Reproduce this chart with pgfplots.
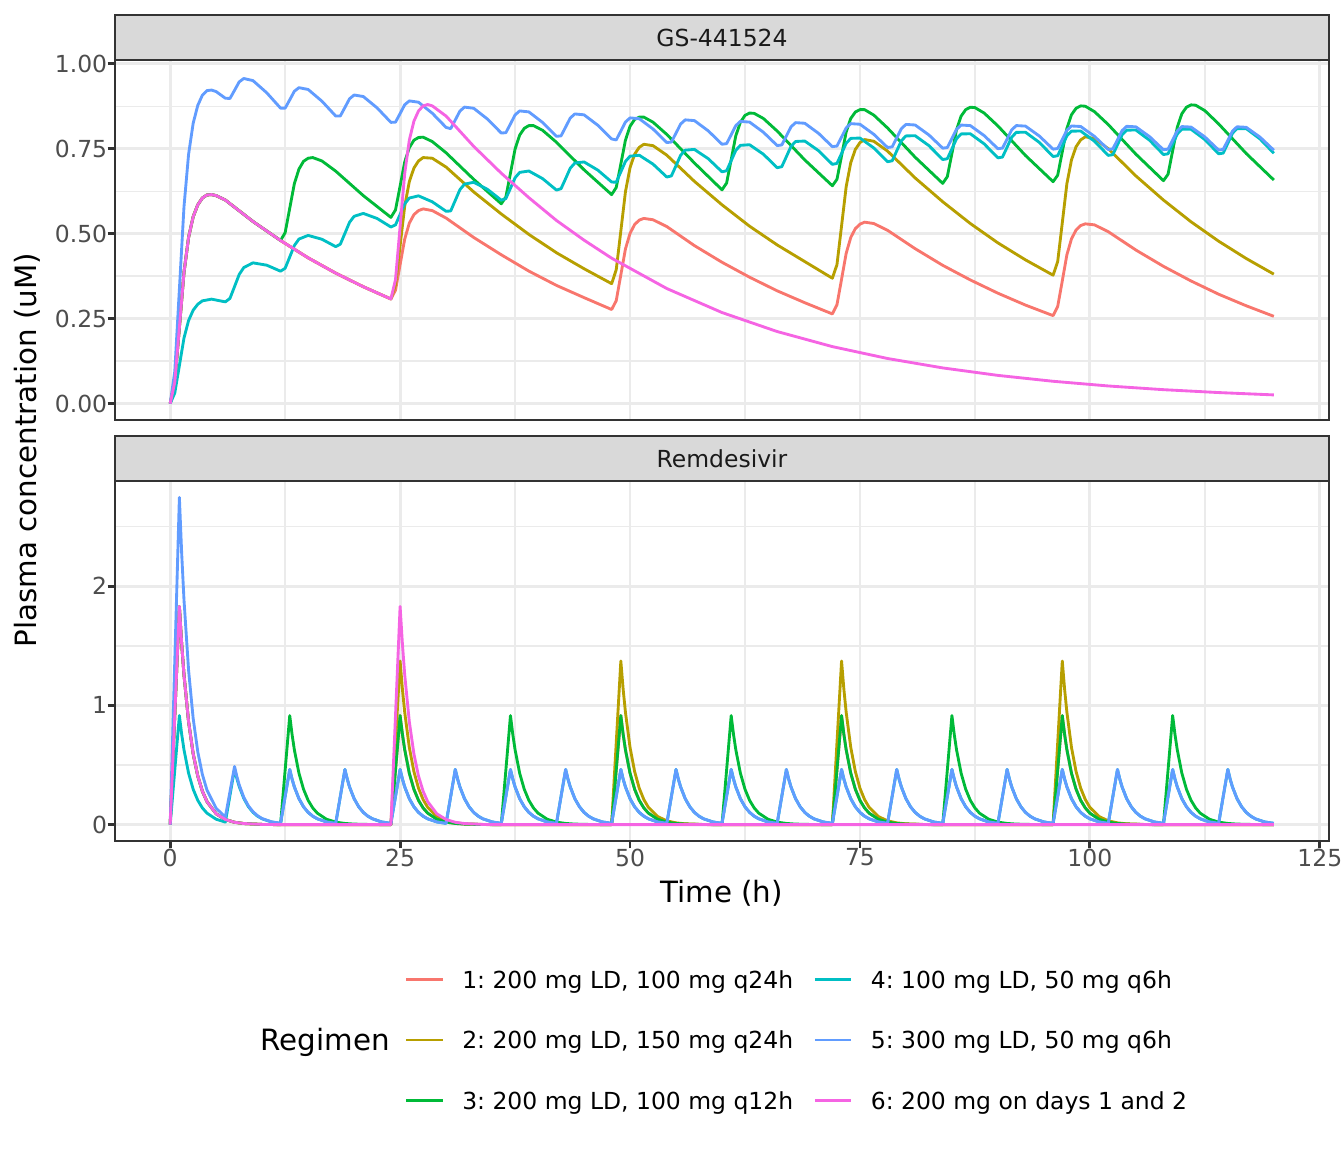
\documentclass[border=0pt]{standalone}
\usepackage{fontspec}
\setmainfont{DejaVu Sans}
\usepackage{pgfplots}
\pgfplotsset{compat=1.18}
\frenchspacing
\definecolor{cA}{HTML}{F8766D}
\definecolor{cB}{HTML}{B79F00}
\definecolor{cC}{HTML}{00BA38}
\definecolor{cD}{HTML}{00BFC4}
\definecolor{cE}{HTML}{619CFF}
\definecolor{cF}{HTML}{F564E3}
\definecolor{gten}{HTML}{1A1A1A}
\definecolor{gtwenty}{HTML}{333333}
\definecolor{gthirty}{HTML}{4D4D4D}
\definecolor{geightyfive}{HTML}{D9D9D9}
\definecolor{gninetytwo}{HTML}{EBEBEB}
\newcommand\ticksz{\fontsize{8.8pt}{10.56pt}\selectfont}
\newcommand\titlesz{\fontsize{11pt}{13.2pt}\selectfont}
\pgfplotsset{
  panel/.style={
    scale only axis, width=455.25pt, height=135pt,
    xmin=-6, xmax=126, anchor=south west,
    axis line style={draw=gtwenty, line width=0.9pt},
    grid=both,
    major grid style={draw=gninetytwo, line width=1.07pt},
    minor grid style={draw=gninetytwo, line width=0.53pt},
    xtick={0,25,50,75,100,125},
    minor xtick={12.5,37.5,62.5,87.5,112.5},
    tick align=outside, major tick length=2.75pt, minor tick length=0pt,
    tick style={draw=gtwenty, line width=1.07pt},
    xtick pos=bottom, ytick pos=left,
    xticklabel style={font=\ticksz, text=gthirty, inner sep=0pt, anchor=north},
    yticklabel style={font=\ticksz, text=gthirty, inner sep=0pt, anchor=east},
    every axis plot/.append style={line width=1.07pt, line join=round},
  }
}
\begin{document}
\begin{tikzpicture}
\useasboundingbox (0,0) rectangle (504pt,432pt);
% ---------------- GS-441524 ----------------
\begin{axis}[panel, at={(43.125pt,274.5pt)},
  ymin=-0.048, ymax=1.011,
  ytick={0,0.25,0.5,0.75,1}, minor ytick={0.125,0.375,0.625,0.875},
  xticklabels={}, xtick style={draw=none},
  yticklabel={\pgfmathprintnumber[fixed,fixed zerofill,precision=2,assume math mode=true]{\tick}}]
% 1
\addplot[cA] coordinates {
(0,0) (0.5,0.063) (1,0.224) (1.5,0.386) (2,0.489) (2.5,0.550) (3,0.585) (3.5,0.605) (4,0.614) (4.5,0.615) (5,0.612) (6,0.599) (9,0.536) (12,0.480) (15,0.429) (18,0.384) (21,0.344) (24,0.308)
(24.5,0.334) (25,0.409) (25.5,0.484) (26,0.531) (26.5,0.556) (27,0.568) (27.5,0.573) (28.5,0.568) (30,0.546) (33,0.489) (36,0.438) (39,0.390) (42,0.348) (45,0.312) (48,0.277)
(48.5,0.303) (49,0.379) (49.5,0.455) (50,0.501) (50.5,0.527) (51,0.540) (51.5,0.545) (52.5,0.541) (54,0.521) (57,0.465) (60,0.416) (63,0.372) (66,0.332) (69,0.297) (72,0.264)
(72.5,0.291) (73,0.366) (73.5,0.442) (74,0.489) (74.5,0.515) (75,0.528) (75.5,0.534) (76.5,0.530) (78,0.510) (81,0.456) (84,0.407) (87,0.364) (90,0.325) (93,0.290) (96,0.259)
(96.5,0.286) (97,0.361) (97.5,0.438) (98,0.485) (98.5,0.511) (99,0.524) (99.5,0.529) (100.5,0.526) (102,0.506) (105,0.452) (108,0.404) (111,0.361) (114,0.322) (117,0.288) (120,0.257)
};
% 2
\addplot[cB] coordinates {
(0,0) (0.5,0.063) (1,0.224) (1.5,0.386) (2,0.489) (2.5,0.550) (3,0.585) (3.5,0.605) (4,0.614) (4.5,0.615) (5,0.612) (6,0.599) (9,0.536) (12,0.480) (15,0.429) (18,0.384) (21,0.344) (24,0.308)
(24.5,0.350) (25,0.465) (25.5,0.581) (26,0.653) (26.5,0.693) (27,0.714) (27.5,0.724) (28.5,0.722) (30,0.696) (33,0.623) (36,0.558) (39,0.498) (42,0.444) (45,0.397) (48,0.353)
(48.5,0.394) (49,0.508) (49.5,0.623) (50,0.694) (50.5,0.734) (51,0.754) (51.5,0.763) (52.5,0.759) (54,0.731) (57,0.654) (60,0.585) (63,0.522) (66,0.467) (69,0.418) (72,0.369)
(72.5,0.409) (73,0.523) (73.5,0.638) (74,0.709) (74.5,0.748) (75,0.768) (75.5,0.777) (76.5,0.772) (78,0.743) (81,0.664) (84,0.594) (87,0.530) (90,0.473) (93,0.423) (96,0.378)
(96.5,0.418) (97,0.532) (97.5,0.647) (98,0.717) (98.5,0.756) (99,0.776) (99.5,0.785) (100.5,0.780) (102,0.750) (105,0.670) (108,0.599) (111,0.535) (114,0.478) (117,0.427) (120,0.381)
};
% 3
\addplot[cC] coordinates {
(0,0) (0.5,0.063) (1,0.224) (1.5,0.386) (2,0.489) (2.5,0.550) (3,0.585) (3.5,0.605) (4,0.614) (4.5,0.615) (5,0.612) (6,0.599) (9,0.536) (12,0.480)
(12.5,0.503) (13,0.575) (13.5,0.647) (14,0.690) (14.5,0.713) (15,0.722) (15.5,0.724) (16.5,0.714) (18,0.684) (21,0.612) (24,0.548)
(24.5,0.570) (25,0.640) (25.5,0.711) (26,0.753) (26.5,0.775) (27,0.783) (27.5,0.784) (28.5,0.771) (30,0.738) (33,0.660) (36,0.588)
(36.5,0.608) (37,0.678) (37.5,0.749) (38,0.790) (38.5,0.810) (39,0.818) (39.5,0.818) (40.5,0.804) (42,0.769) (45,0.688) (48,0.615)
(48.5,0.636) (49,0.705) (49.5,0.775) (50,0.816) (50.5,0.836) (51,0.843) (51.5,0.843) (52.5,0.828) (54,0.792) (57,0.708) (60,0.629)
(60.5,0.649) (61,0.718) (61.5,0.788) (62,0.828) (62.5,0.848) (63,0.855) (63.5,0.854) (64.5,0.839) (66,0.802) (69,0.717) (72,0.641)
(72.5,0.660) (73,0.729) (73.5,0.799) (74,0.839) (74.5,0.858) (75,0.865) (75.5,0.865) (76.5,0.849) (78,0.811) (81,0.725) (84,0.648)
(84.5,0.668) (85,0.736) (85.5,0.806) (86,0.846) (86.5,0.865) (87,0.872) (87.5,0.871) (88.5,0.855) (90,0.817) (93,0.730) (96,0.653)
(96.5,0.672) (97,0.741) (97.5,0.810) (98,0.850) (98.5,0.869) (99,0.876) (99.5,0.875) (100.5,0.859) (102,0.821) (105,0.734) (108,0.656)
(108.5,0.675) (109,0.744) (109.5,0.813) (110,0.853) (110.5,0.872) (111,0.879) (111.5,0.878) (112.5,0.862) (114,0.823) (117,0.736) (120,0.658)
};
% 4
\addplot[cD] coordinates {
(0,0) (0.5,0.0315) (1,0.112) (1.5,0.193) (2,0.2445) (2.5,0.275) (3,0.2925) (3.5,0.3025) (4.5,0.3075) (6,0.2995)
(6.5,0.3098) (7,0.3446) (7.5,0.3798) (8,0.4004) (9,0.4143) (10.5,0.4074) (12,0.3897)
(12.5,0.3984) (13,0.4316) (13.5,0.4652) (14,0.4842) (15,0.4950) (16.5,0.4837) (18,0.4619)
(18.5,0.4692) (19,0.5011) (19.5,0.5335) (20,0.5512) (21,0.5597) (22.5,0.5448) (24,0.5197)
(24.5,0.5260) (25,0.5568) (25.5,0.5881) (26,0.6049) (27,0.6114) (28.5,0.5938) (30,0.5660)
(30.5,0.5669) (31,0.5980) (31.5,0.6294) (32,0.6459) (33,0.6513) (34.5,0.6305) (36,0.5986)
(36.5,0.6034) (37,0.6337) (37.5,0.6645) (38,0.6803) (39,0.6845) (40.5,0.6619) (42,0.6283)
(42.5,0.6325) (43,0.6623) (43.5,0.6926) (44,0.7079) (45,0.7111) (46.5,0.6870) (48,0.6521)
(48.5,0.6514) (49,0.6818) (49.5,0.7126) (50,0.7280) (51,0.7309) (52.5,0.7047) (54,0.6667)
(54.5,0.6701) (55,0.7002) (55.5,0.7307) (56,0.7458) (57,0.7480) (58.5,0.7208) (60,0.6820)
(60.5,0.6852) (61,0.7149) (61.5,0.7452) (62,0.7600) (63,0.7617) (64.5,0.7338) (66,0.6942)
(66.5,0.6971) (67,0.7267) (67.5,0.7567) (68,0.7713) (69,0.7726) (70.5,0.7441) (72,0.7040)
(72.5,0.7068) (73,0.7361) (73.5,0.7660) (74,0.7804) (75,0.7814) (76.5,0.7524) (78,0.7118)
(78.5,0.7144) (79,0.7436) (79.5,0.7734) (80,0.7876) (81,0.7883) (82.5,0.7590) (84,0.7181)
(84.5,0.7206) (85,0.7497) (85.5,0.7793) (86,0.7935) (87,0.7940) (88.5,0.7644) (90,0.7231)
(90.5,0.7255) (91,0.7545) (91.5,0.7841) (92,0.7981) (93,0.7985) (94.5,0.7686) (96,0.7271)
(96.5,0.7294) (97,0.7584) (97.5,0.7879) (98,0.8018) (99,0.8020) (100.5,0.7720) (102,0.7303)
(102.5,0.7326) (103,0.7615) (103.5,0.7909) (104,0.8048) (105,0.8049) (106.5,0.7747) (108,0.7329)
(108.5,0.7351) (109,0.7640) (109.5,0.7933) (110,0.8072) (111,0.8072) (112.5,0.7769) (114,0.7350)
(114.5,0.7372) (115,0.7660) (115.5,0.7953) (116,0.8092) (117,0.8091) (118.5,0.7787) (120,0.7367)
};
% 5
\addplot[cE] coordinates {
(0,0) (0.5,0.0945) (1,0.336) (1.5,0.579) (2,0.7335) (2.5,0.825) (3,0.8775) (3.5,0.9075) (4,0.921) (4.5,0.9225) (5,0.918) (6,0.8985)
(6.5,0.8979) (7,0.9219) (7.5,0.9465) (8,0.9566) (9,0.9504) (10.5,0.9145) (12,0.8694)
(12.5,0.8693) (13,0.8938) (13.5,0.9190) (14,0.9296) (15,0.9243) (16.5,0.8898) (18,0.8461)
(18.5,0.8464) (19,0.8714) (19.5,0.8969) (20,0.9080) (21,0.9035) (22.5,0.8701) (24,0.8275)
(24.5,0.8282) (25,0.8535) (25.5,0.8793) (26,0.8907) (27,0.8868) (28.5,0.8544) (30,0.8126)
(30.5,0.8090) (31,0.8346) (31.5,0.8607) (32,0.8724) (33,0.8690) (34.5,0.8372) (36,0.7961)
(36.5,0.7972) (37,0.8230) (37.5,0.8494) (38,0.8612) (39,0.8583) (40.5,0.8271) (42,0.7865)
(42.5,0.7878) (43,0.8138) (43.5,0.8403) (44,0.8523) (45,0.8497) (46.5,0.8190) (48,0.7788)
(48.5,0.7758) (49,0.8019) (49.5,0.8285) (50,0.8407) (51,0.8383) (52.5,0.8079) (54,0.7681)
(54.5,0.7697) (55,0.7959) (55.5,0.8226) (56,0.8349) (57,0.8327) (58.5,0.8027) (60,0.7632)
(60.5,0.7649) (61,0.7912) (61.5,0.8180) (62,0.8304) (63,0.8283) (64.5,0.7985) (66,0.7593)
(66.5,0.7610) (67,0.7874) (67.5,0.8143) (68,0.8267) (69,0.8249) (70.5,0.7952) (72,0.7561)
(72.5,0.7579) (73,0.7843) (73.5,0.8113) (74,0.8238) (75,0.8220) (76.5,0.7925) (78,0.7536)
(78.5,0.7554) (79,0.7819) (79.5,0.8089) (80,0.8215) (81,0.8198) (82.5,0.7904) (84,0.7516)
(84.5,0.7535) (85,0.7800) (85.5,0.8070) (86,0.8196) (87,0.8180) (88.5,0.7887) (90,0.7500)
(90.5,0.7519) (91,0.7784) (91.5,0.8055) (92,0.8181) (93,0.8165) (94.5,0.7874) (96,0.7487)
(96.5,0.7506) (97,0.7772) (97.5,0.8043) (98,0.8169) (99,0.8154) (100.5,0.7863) (102,0.7476)
(102.5,0.7496) (103,0.7761) (103.5,0.8032) (104,0.8159) (105,0.8144) (106.5,0.7853) (108,0.7468)
(108.5,0.7488) (109,0.7754) (109.5,0.8025) (110,0.8151) (111,0.8137) (112.5,0.7847) (114,0.7461)
(114.5,0.7481) (115,0.7747) (115.5,0.8018) (116,0.8145) (117,0.8130) (118.5,0.7841) (120,0.7456)
};
% 6
\addplot[cF] coordinates {
(0,0) (0.5,0.063) (1,0.224) (1.5,0.386) (2,0.489) (2.5,0.550) (3,0.585) (3.5,0.605) (4,0.614) (4.5,0.615) (5,0.612) (6,0.599) (9,0.536) (12,0.480) (15,0.429) (18,0.384) (21,0.344) (24,0.308)
(24.5,0.365) (25,0.521) (25.5,0.677) (26,0.775) (26.5,0.831) (27,0.861) (27.5,0.876) (28,0.880) (28.5,0.876) (30,0.846) (33,0.757) (36,0.678) (39,0.606) (42,0.539) (45,0.481) (48,0.428)
(54,0.3387) (60,0.2681) (66,0.2122) (72,0.1679) (78,0.1329) (84,0.1052) (90,0.0832) (96,0.0659) (102,0.0521) (108,0.0412) (114,0.0327) (120,0.0258)
};
\end{axis}
% ---------------- Remdesivir ----------------
\begin{axis}[panel, at={(43.125pt,116.625pt)},
  ymin=-0.137, ymax=2.882,
  ytick={0,1,2}, minor ytick={0.5,1.5,2.5},
  yticklabel={\pgfmathprintnumber[assume math mode=true]{\tick}},
  xticklabel={\pgfmathprintnumber[assume math mode=true]{\tick}},
  legend columns=2, legend cell align=left,
  legend image code/.code={\draw[#1] (0pt,0pt) -- (13.65pt,0pt);},
  legend style={at={(0.2388,-0.3610)}, anchor=north west, draw=none, fill=none,
    inner sep=0pt, outer sep=0pt, font=\ticksz, row sep=16.29pt,
    nodes={inner sep=0pt, text height=6.4pt, text depth=0pt},
    /tikz/every odd column/.append style={column sep=6.8pt},
    /tikz/every even column/.append style={column sep=7.6pt}}]
% 1
\addplot[cA, forget plot] coordinates {
(0,0) (1,1.83) (1.25,1.517) (1.5,1.258) (2,0.864) (2.5,0.594) (3,0.408) (3.5,0.281) (4,0.193) (5,0.091) (6,0.043) (7,0.020) (8,0.0096) (10,0.002) (12,0) (24,0)
(25,0.915) (25.25,0.7585) (25.5,0.629) (26,0.432) (26.5,0.297) (27,0.204) (27.5,0.1405) (28,0.0965) (29,0.0456) (30,0.0215) (31,0.0102) (32,0.0048) (34,0.001) (36,0) (48,0)
(49,0.915) (49.25,0.7585) (49.5,0.629) (50,0.432) (50.5,0.297) (51,0.204) (51.5,0.1405) (52,0.0965) (53,0.0456) (54,0.0215) (55,0.0102) (56,0.0048) (58,0.001) (60,0) (72,0)
(73,0.915) (73.25,0.7585) (73.5,0.629) (74,0.432) (74.5,0.297) (75,0.204) (75.5,0.1405) (76,0.0965) (77,0.0456) (78,0.0215) (79,0.0102) (80,0.0048) (82,0.001) (84,0) (96,0)
(97,0.915) (97.25,0.7585) (97.5,0.629) (98,0.432) (98.5,0.297) (99,0.204) (99.5,0.1405) (100,0.0965) (101,0.0456) (102,0.0215) (103,0.0102) (104,0.0048) (106,0.001) (108,0) (120,0)
};
% 2
\addplot[cB, forget plot] coordinates {
(0,0) (1,1.83) (1.25,1.517) (1.5,1.258) (2,0.864) (2.5,0.594) (3,0.408) (3.5,0.281) (4,0.193) (5,0.091) (6,0.043) (7,0.020) (8,0.0096) (10,0.002) (12,0) (24,0)
(25,1.3725) (25.25,1.138) (25.5,0.9435) (26,0.648) (26.5,0.4455) (27,0.306) (27.5,0.211) (28,0.145) (29,0.0683) (30,0.0323) (31,0.0152) (32,0.0072) (34,0.0016) (36,0) (48,0)
(49,1.3725) (49.25,1.138) (49.5,0.9435) (50,0.648) (50.5,0.4455) (51,0.306) (51.5,0.211) (52,0.145) (53,0.0683) (54,0.0323) (55,0.0152) (56,0.0072) (58,0.0016) (60,0) (72,0)
(73,1.3725) (73.25,1.138) (73.5,0.9435) (74,0.648) (74.5,0.4455) (75,0.306) (75.5,0.211) (76,0.145) (77,0.0683) (78,0.0323) (79,0.0152) (80,0.0072) (82,0.0016) (84,0) (96,0)
(97,1.3725) (97.25,1.138) (97.5,0.9435) (98,0.648) (98.5,0.4455) (99,0.306) (99.5,0.211) (100,0.145) (101,0.0683) (102,0.0323) (103,0.0152) (104,0.0072) (106,0.0016) (108,0) (120,0)
};
% 3
\addplot[cC, forget plot] coordinates {
(0,0) (1,1.83) (1.25,1.517) (1.5,1.258) (2,0.864) (2.5,0.594) (3,0.408) (3.5,0.281) (4,0.193) (5,0.091) (6,0.043) (7,0.020) (8,0.0096) (10,0.002) (12,0.0005)
(13,0.915) (13.25,0.7585) (13.5,0.629) (14,0.432) (14.5,0.297) (15,0.204) (15.5,0.1405) (16,0.0965) (17,0.0456) (18,0.0215) (19,0.0102) (20,0.0048) (22,0.001) (24,0.0005)
(25,0.915) (25.25,0.7585) (25.5,0.629) (26,0.432) (26.5,0.297) (27,0.204) (27.5,0.1405) (28,0.0965) (29,0.0456) (30,0.0215) (31,0.0102) (32,0.0048) (34,0.001) (36,0.0005)
(37,0.915) (37.25,0.7585) (37.5,0.629) (38,0.432) (38.5,0.297) (39,0.204) (39.5,0.1405) (40,0.0965) (41,0.0456) (42,0.0215) (43,0.0102) (44,0.0048) (46,0.001) (48,0.0005)
(49,0.915) (49.25,0.7585) (49.5,0.629) (50,0.432) (50.5,0.297) (51,0.204) (51.5,0.1405) (52,0.0965) (53,0.0456) (54,0.0215) (55,0.0102) (56,0.0048) (58,0.001) (60,0.0005)
(61,0.915) (61.25,0.7585) (61.5,0.629) (62,0.432) (62.5,0.297) (63,0.204) (63.5,0.1405) (64,0.0965) (65,0.0456) (66,0.0215) (67,0.0102) (68,0.0048) (70,0.001) (72,0.0005)
(73,0.915) (73.25,0.7585) (73.5,0.629) (74,0.432) (74.5,0.297) (75,0.204) (75.5,0.1405) (76,0.0965) (77,0.0456) (78,0.0215) (79,0.0102) (80,0.0048) (82,0.001) (84,0.0005)
(85,0.915) (85.25,0.7585) (85.5,0.629) (86,0.432) (86.5,0.297) (87,0.204) (87.5,0.1405) (88,0.0965) (89,0.0456) (90,0.0215) (91,0.0102) (92,0.0048) (94,0.001) (96,0.0005)
(97,0.915) (97.25,0.7585) (97.5,0.629) (98,0.432) (98.5,0.297) (99,0.204) (99.5,0.1405) (100,0.0965) (101,0.0456) (102,0.0215) (103,0.0102) (104,0.0048) (106,0.001) (108,0.0005)
(109,0.915) (109.25,0.7585) (109.5,0.629) (110,0.432) (110.5,0.297) (111,0.204) (111.5,0.1405) (112,0.0965) (113,0.0456) (114,0.0215) (115,0.0102) (116,0.0048) (118,0.001) (120,0.0005)
};
% 4
\addplot[cD, forget plot] coordinates {
(0,0) (1,0.915) (1.25,0.7585) (1.5,0.629) (2,0.432) (2.5,0.297) (3,0.204) (3.5,0.1405) (4,0.0965) (5,0.0456) (6,0.0215)
(7,0.468) (7.25,0.387) (7.5,0.321) (8,0.221) (8.5,0.151) (9,0.104) (9.5,0.071) (10,0.049) (11,0.023) (12,0.011)
(13,0.463) (13.25,0.383) (13.5,0.317) (14,0.218) (14.5,0.150) (15,0.103) (15.5,0.071) (16,0.049) (17,0.023) (18,0.011)
(19,0.463) (19.25,0.383) (19.5,0.317) (20,0.218) (20.5,0.150) (21,0.103) (21.5,0.071) (22,0.049) (23,0.023) (24,0.011)
(25,0.463) (25.25,0.383) (25.5,0.317) (26,0.218) (26.5,0.150) (27,0.103) (27.5,0.071) (28,0.049) (29,0.023) (30,0.011)
(31,0.463) (31.25,0.383) (31.5,0.317) (32,0.218) (32.5,0.150) (33,0.103) (33.5,0.071) (34,0.049) (35,0.023) (36,0.011)
(37,0.463) (37.25,0.383) (37.5,0.317) (38,0.218) (38.5,0.150) (39,0.103) (39.5,0.071) (40,0.049) (41,0.023) (42,0.011)
(43,0.463) (43.25,0.383) (43.5,0.317) (44,0.218) (44.5,0.150) (45,0.103) (45.5,0.071) (46,0.049) (47,0.023) (48,0.011)
(49,0.463) (49.25,0.383) (49.5,0.317) (50,0.218) (50.5,0.150) (51,0.103) (51.5,0.071) (52,0.049) (53,0.023) (54,0.011)
(55,0.463) (55.25,0.383) (55.5,0.317) (56,0.218) (56.5,0.150) (57,0.103) (57.5,0.071) (58,0.049) (59,0.023) (60,0.011)
(61,0.463) (61.25,0.383) (61.5,0.317) (62,0.218) (62.5,0.150) (63,0.103) (63.5,0.071) (64,0.049) (65,0.023) (66,0.011)
(67,0.463) (67.25,0.383) (67.5,0.317) (68,0.218) (68.5,0.150) (69,0.103) (69.5,0.071) (70,0.049) (71,0.023) (72,0.011)
(73,0.463) (73.25,0.383) (73.5,0.317) (74,0.218) (74.5,0.150) (75,0.103) (75.5,0.071) (76,0.049) (77,0.023) (78,0.011)
(79,0.463) (79.25,0.383) (79.5,0.317) (80,0.218) (80.5,0.150) (81,0.103) (81.5,0.071) (82,0.049) (83,0.023) (84,0.011)
(85,0.463) (85.25,0.383) (85.5,0.317) (86,0.218) (86.5,0.150) (87,0.103) (87.5,0.071) (88,0.049) (89,0.023) (90,0.011)
(91,0.463) (91.25,0.383) (91.5,0.317) (92,0.218) (92.5,0.150) (93,0.103) (93.5,0.071) (94,0.049) (95,0.023) (96,0.011)
(97,0.463) (97.25,0.383) (97.5,0.317) (98,0.218) (98.5,0.150) (99,0.103) (99.5,0.071) (100,0.049) (101,0.023) (102,0.011)
(103,0.463) (103.25,0.383) (103.5,0.317) (104,0.218) (104.5,0.150) (105,0.103) (105.5,0.071) (106,0.049) (107,0.023) (108,0.011)
(109,0.463) (109.25,0.383) (109.5,0.317) (110,0.218) (110.5,0.150) (111,0.103) (111.5,0.071) (112,0.049) (113,0.023) (114,0.011)
(115,0.463) (115.25,0.383) (115.5,0.317) (116,0.218) (116.5,0.150) (117,0.103) (117.5,0.071) (118,0.049) (119,0.023) (120,0.011)
};
% 5
\addplot[cE, forget plot] coordinates {
(0,0) (1,2.745) (1.25,2.276) (1.5,1.887) (2,1.296) (2.5,0.891) (3,0.612) (3.5,0.421) (4,0.290) (5,0.137) (6,0.0645)
(7,0.488) (7.25,0.404) (7.5,0.335) (8,0.230) (8.5,0.158) (9,0.109) (9.5,0.075) (10,0.051) (11,0.024) (12,0.0115)
(13,0.463) (13.25,0.383) (13.5,0.317) (14,0.218) (14.5,0.150) (15,0.103) (15.5,0.071) (16,0.049) (17,0.023) (18,0.011)
(19,0.463) (19.25,0.383) (19.5,0.317) (20,0.218) (20.5,0.150) (21,0.103) (21.5,0.071) (22,0.049) (23,0.023) (24,0.011)
(25,0.463) (25.25,0.383) (25.5,0.317) (26,0.218) (26.5,0.150) (27,0.103) (27.5,0.071) (28,0.049) (29,0.023) (30,0.011)
(31,0.463) (31.25,0.383) (31.5,0.317) (32,0.218) (32.5,0.150) (33,0.103) (33.5,0.071) (34,0.049) (35,0.023) (36,0.011)
(37,0.463) (37.25,0.383) (37.5,0.317) (38,0.218) (38.5,0.150) (39,0.103) (39.5,0.071) (40,0.049) (41,0.023) (42,0.011)
(43,0.463) (43.25,0.383) (43.5,0.317) (44,0.218) (44.5,0.150) (45,0.103) (45.5,0.071) (46,0.049) (47,0.023) (48,0.011)
(49,0.463) (49.25,0.383) (49.5,0.317) (50,0.218) (50.5,0.150) (51,0.103) (51.5,0.071) (52,0.049) (53,0.023) (54,0.011)
(55,0.463) (55.25,0.383) (55.5,0.317) (56,0.218) (56.5,0.150) (57,0.103) (57.5,0.071) (58,0.049) (59,0.023) (60,0.011)
(61,0.463) (61.25,0.383) (61.5,0.317) (62,0.218) (62.5,0.150) (63,0.103) (63.5,0.071) (64,0.049) (65,0.023) (66,0.011)
(67,0.463) (67.25,0.383) (67.5,0.317) (68,0.218) (68.5,0.150) (69,0.103) (69.5,0.071) (70,0.049) (71,0.023) (72,0.011)
(73,0.463) (73.25,0.383) (73.5,0.317) (74,0.218) (74.5,0.150) (75,0.103) (75.5,0.071) (76,0.049) (77,0.023) (78,0.011)
(79,0.463) (79.25,0.383) (79.5,0.317) (80,0.218) (80.5,0.150) (81,0.103) (81.5,0.071) (82,0.049) (83,0.023) (84,0.011)
(85,0.463) (85.25,0.383) (85.5,0.317) (86,0.218) (86.5,0.150) (87,0.103) (87.5,0.071) (88,0.049) (89,0.023) (90,0.011)
(91,0.463) (91.25,0.383) (91.5,0.317) (92,0.218) (92.5,0.150) (93,0.103) (93.5,0.071) (94,0.049) (95,0.023) (96,0.011)
(97,0.463) (97.25,0.383) (97.5,0.317) (98,0.218) (98.5,0.150) (99,0.103) (99.5,0.071) (100,0.049) (101,0.023) (102,0.011)
(103,0.463) (103.25,0.383) (103.5,0.317) (104,0.218) (104.5,0.150) (105,0.103) (105.5,0.071) (106,0.049) (107,0.023) (108,0.011)
(109,0.463) (109.25,0.383) (109.5,0.317) (110,0.218) (110.5,0.150) (111,0.103) (111.5,0.071) (112,0.049) (113,0.023) (114,0.011)
(115,0.463) (115.25,0.383) (115.5,0.317) (116,0.218) (116.5,0.150) (117,0.103) (117.5,0.071) (118,0.049) (119,0.023) (120,0.011)
};
% 6
\addplot[cF, forget plot] coordinates {
(0,0) (1,1.83) (1.25,1.517) (1.5,1.258) (2,0.864) (2.5,0.594) (3,0.408) (3.5,0.281) (4,0.193) (5,0.091) (6,0.043) (7,0.020) (8,0.0096) (10,0.002) (12,0) (24,0)
(25,1.83) (25.25,1.517) (25.5,1.258) (26,0.864) (26.5,0.594) (27,0.408) (27.5,0.281) (28,0.193) (29,0.091) (30,0.043) (31,0.020) (32,0.0096) (34,0.002) (36,0) (120,0)
};
\addlegendimage{cA, line width=1.07pt}\addlegendentry{1: 200 mg LD, 100 mg q24h}
\addlegendimage{cD, line width=1.07pt}\addlegendentry{4: 100 mg LD, 50 mg q6h}
\addlegendimage{cB, line width=1.07pt}\addlegendentry{2: 200 mg LD, 150 mg q24h}
\addlegendimage{cE, line width=1.07pt}\addlegendentry{5: 300 mg LD, 50 mg q6h}
\addlegendimage{cC, line width=1.07pt}\addlegendentry{3: 200 mg LD, 100 mg q12h}
\addlegendimage{cF, line width=1.07pt}\addlegendentry{6: 200 mg on days 1 and 2}
\end{axis}
% strips
\draw[fill=geightyfive, draw=gtwenty, line width=0.9pt] (43.125pt,409.5pt) rectangle (498.375pt,426.375pt);
\node[font=\ticksz, text=gten, inner sep=0pt] at (270.75pt,417.94pt) {GS-441524};
\draw[fill=geightyfive, draw=gtwenty, line width=0.9pt] (43.125pt,251.625pt) rectangle (498.375pt,268.5pt);
\node[font=\ticksz, text=gten, inner sep=0pt] at (270.75pt,260.06pt) {Remdesivir};
% titles
\node[font=\titlesz, rotate=90, inner sep=0pt] at (10.3pt,263.25pt) {Plasma concentration (uM)};
\node[font=\titlesz, inner sep=0pt] at (270.6pt,97pt) {Time (h)};
\node[font=\titlesz, inner sep=0pt, anchor=base west] at (97.5pt,38.25pt) {Regimen};
\end{tikzpicture}
\end{document}
